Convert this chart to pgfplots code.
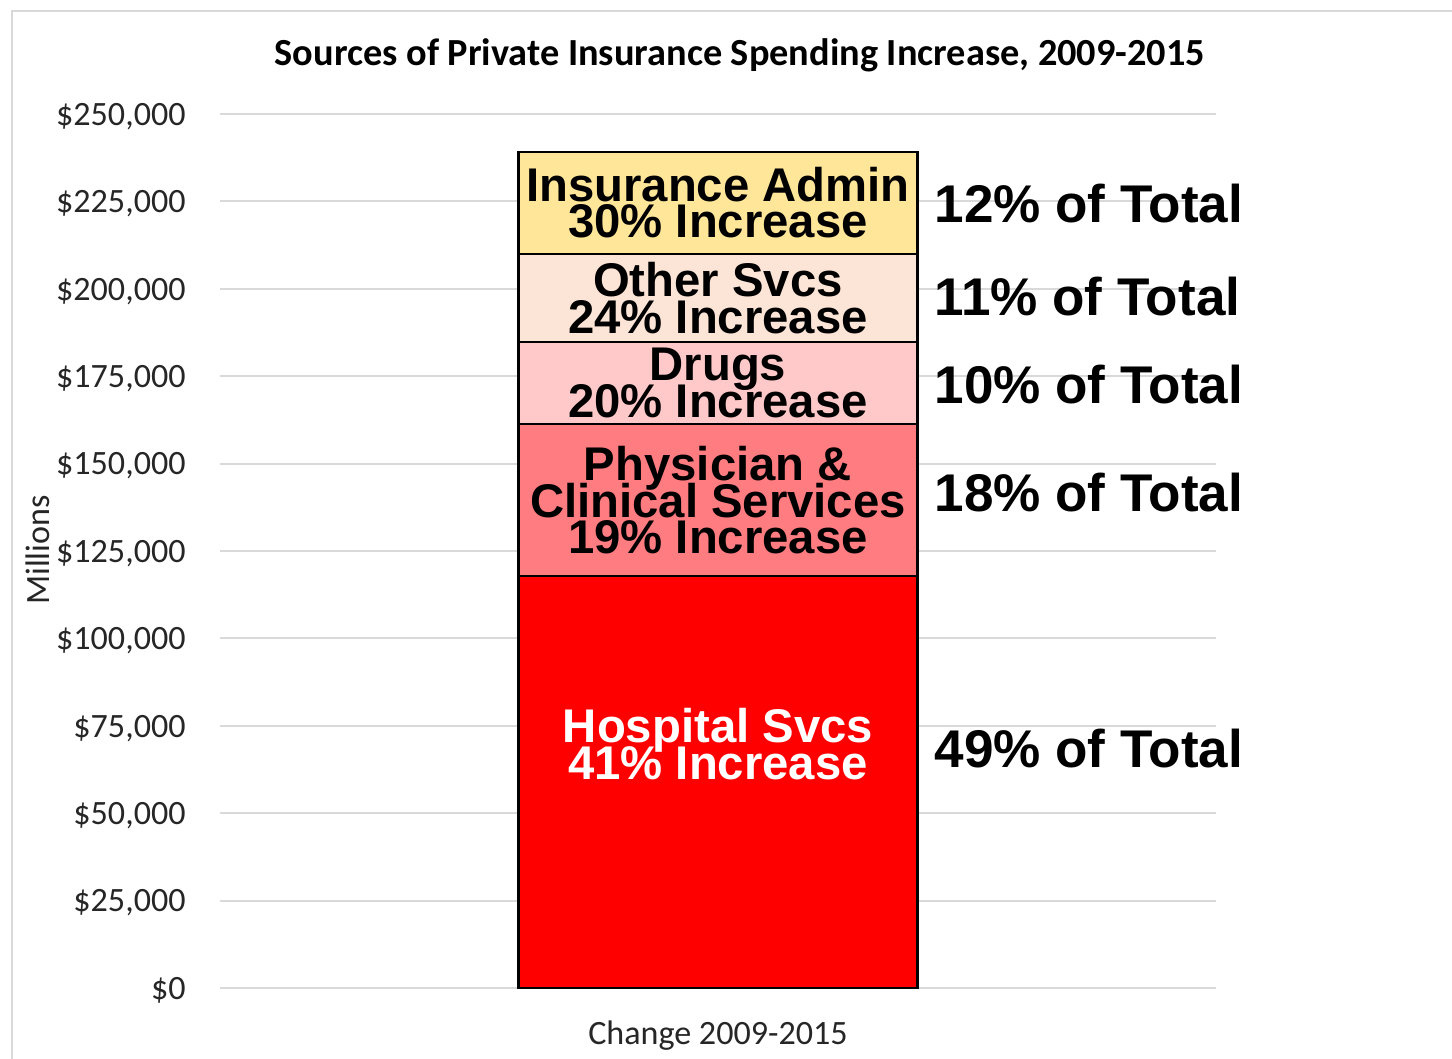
\documentclass[border=0pt]{standalone}
\usepackage{pgfplots}
\pgfplotsset{compat=1.18}
\usepackage{fontspec}
\setmainfont{Carlito}
\newfontfamily\arialf{Liberation Sans}
\definecolor{cAdmin}{HTML}{FFE699}
\definecolor{cOther}{HTML}{FCE4D6}
\definecolor{cDrugs}{HTML}{FFC9C9}
\definecolor{cPhys}{HTML}{FF7C80}
\definecolor{cHosp}{HTML}{FF0000}
\definecolor{cGrid}{HTML}{D9D9D9}
\begin{document}
\begin{tikzpicture}[x=0.1mm,y=0.1mm]
\path[use as bounding box] (0,0) rectangle (1452,1059);
\draw[cGrid, line width=0.6pt] (12,0) -- (12,1048) -- (1452,1048);
\begin{axis}[
  at={(22mm,7.1mm)}, anchor=south west,
  scale only axis, width=99.6mm, height=87.4mm,
  xmin=-1.25, xmax=1.25, ymin=0, ymax=250000,
  ybar stacked, bar width=39.9mm,
  clip=false,
  axis line style={draw=none},
  major tick length=0pt,
  ymajorgrids, grid style={cGrid, line width=0.6pt},
  ytick={0,25000,...,250000},
  scaled y ticks=false,
  yticklabel={\$\pgfmathprintnumber{\tick}},
  /pgf/number format/.cd, fixed, 1000 sep={,}, assume math mode=true,
  /pgfplots/.cd,
  yticklabel style={font=\fontsize{9.7}{11.6}\selectfont, color=black!85, xshift=-2.2mm, yshift=-0.25mm},
  xtick={0}, xticklabels={Change 2009-2015},
  xticklabel style={font=\fontsize{9.7}{11.6}\selectfont, color=black!85, yshift=-2mm},
  every axis plot/.append style={draw=black, line width=0.7pt},
]
\addplot[fill=cHosp] coordinates {(0,117800)};
\addplot[fill=cPhys] coordinates {(0,43500)};
\addplot[fill=cDrugs] coordinates {(0,23500)};
\addplot[fill=cOther] coordinates {(0,25200)};
\addplot[fill=cAdmin] coordinates {(0,29200)};
\coordinate (b1) at (axis cs:0,224600);
\coordinate (b2) at (axis cs:0,197400);
\coordinate (b3) at (axis cs:0,173050);
\coordinate (b4) at (axis cs:0,139550);
\coordinate (b5) at (axis cs:0,69800);
\coordinate (r1) at (axis cs:0.5,224500);
\coordinate (r2) at (axis cs:0.5,197700);
\coordinate (r3) at (axis cs:0.5,172500);
\coordinate (r4) at (axis cs:0.5,141600);
\coordinate (r5) at (axis cs:0.5,68600);
\end{axis}
\tikzset{blab/.style={align=center, font={\arialf\bfseries\fontsize{13.45}{10.4}\selectfont\lineskiplimit=-100pt\lineskip=0pt}},
         rlab/.style={anchor=west, xshift=0.5mm, font=\arialf\bfseries\fontsize{15.1}{17}\selectfont}}
\node[blab] at (b1) {Insurance Admin\\30\% Increase};
\node[blab] at (b2) {Other Svcs\\24\% Increase};
\node[blab] at (b3) {Drugs\\20\% Increase};
\node[blab] at (b4) {Physician \&\\Clinical Services\\19\% Increase};
\node[blab, text=white] at (b5) {Hospital Svcs\\41\% Increase};
\node[rlab] at (r1) {12\% of Total};
\node[rlab] at (r2) {11\% of Total};
\node[rlab] at (r3) {10\% of Total};
\node[rlab] at (r4) {18\% of Total};
\node[rlab] at (r5) {49\% of Total};
\node[font=\bfseries\fontsize{10.9}{13}\selectfont] at (740,1004) {Sources of Private Insurance Spending Increase, 2009-2015};
\node[rotate=90, font=\fontsize{9.7}{11.6}\selectfont, text=black!85] at (38,509) {Millions};
\end{tikzpicture}
\end{document}
